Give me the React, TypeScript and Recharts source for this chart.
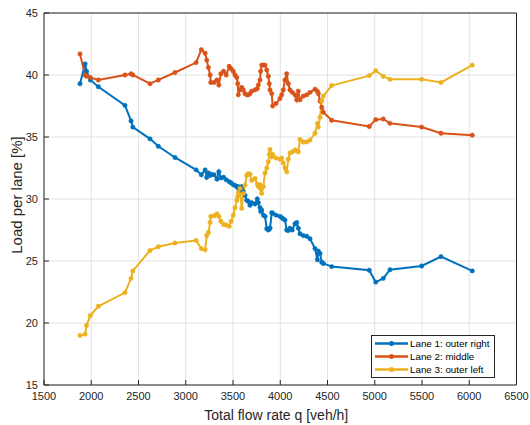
import { CartesianGrid, Legend, Line, LineChart, XAxis, YAxis } from "recharts";

// total flow rate q [veh/h], shared by the three lanes
const flowRate = [
  1881, 1935, 1950, 1990, 2075, 2357, 2421, 2440, 2622, 2710, 2886, 3110, 3165,
  3205, 3222, 3240, 3258, 3265, 3300, 3330, 3350, 3372, 3400, 3428, 3460, 3480,
  3503, 3521, 3540, 3550, 3556, 3574, 3592, 3609, 3627, 3645, 3662, 3680, 3698,
  3733, 3757, 3768, 3786, 3793, 3804, 3821, 3839, 3857, 3874, 3884, 3892, 3910,
  3920, 3955, 3997, 4015, 4032, 4050, 4068, 4085, 4103, 4127, 4156, 4174, 4191,
  4209, 4244, 4280, 4315, 4368, 4393, 4403, 4421, 4439, 4456, 4544, 4942, 5010,
  5090, 5161, 5496, 5701, 6032,
];

// lane 1: outer right [%]
const lane1 = [
  39.3, 40.9, 40.3, 39.6, 39.05, 37.55, 36.3, 35.8, 34.85, 34.25, 33.35, 32.35,
  31.95, 32.35, 31.75, 32.1, 31.9, 32.0, 31.95, 31.6, 32.2, 31.7, 31.75, 31.55,
  31.4, 31.3, 31.15, 31.1, 31.0, 30.9, 31.0, 30.7, 31.0, 30.6, 30.3, 29.9, 29.8,
  29.5, 29.7, 29.6, 30.0, 29.7, 29.3, 29.0, 29.1, 28.7, 28.6, 27.6, 27.5, 27.6,
  27.65, 28.9, 28.85, 28.7, 28.6, 28.5, 28.4, 28.3, 27.5, 27.45, 27.65, 27.5,
  28.0, 28.1, 27.65, 27.2, 27.05, 27.0, 26.8, 26.0, 25.1, 25.8, 25.6, 24.9, 24.8,
  24.55, 24.25, 23.3, 23.6, 24.3, 24.6, 25.35, 24.2,
];

// lane 2: middle [%]
const lane2 = [
  41.7, 40.0, 39.9, 39.8, 39.6, 40.0, 40.1, 40.0, 39.3, 39.6, 40.2, 41.0, 42.05,
  41.75, 41.2, 40.6, 40.0, 39.4, 39.4, 39.6, 39.2, 40.1, 40.3, 40.0, 40.7, 40.5,
  40.3, 40.0, 39.8, 39.3, 38.4, 38.8, 39.0, 38.8, 38.5, 38.4, 38.4, 38.5, 38.7,
  38.8, 38.9, 39.2, 39.6, 40.3, 40.8, 40.8, 40.8, 40.4, 39.9, 39.3, 38.8, 38.5,
  37.5, 37.7, 38.1, 38.4, 38.8, 39.6, 40.1, 39.3, 38.8, 38.6, 38.4, 38.0, 38.7,
  38.0, 38.3, 38.4, 38.6, 38.85, 38.7, 38.5, 37.9, 37.4, 37.0, 36.35, 35.85,
  36.4, 36.45, 36.1, 35.8, 35.3, 35.15,
];

// lane 3: outer left [%]
const lane3 = [
  19.0, 19.1, 19.8, 20.6, 21.35, 22.45, 23.6, 24.2, 25.85, 26.15, 26.45, 26.65,
  26.0, 25.9, 27.05, 27.3, 28.1, 28.6, 28.65, 28.8, 28.6, 28.2, 27.95, 27.9, 27.8,
  28.2, 28.7, 29.3, 29.9, 30.2, 30.5, 30.85, 29.25, 30.45, 31.1, 31.9, 32.05,
  32.0, 31.5, 31.65, 31.2, 31.0, 31.15, 30.8, 30.45, 31.0, 32.1, 32.5, 33.0, 33.6,
  34.0, 33.4, 33.6, 33.3, 33.2, 33.3, 32.9, 32.5, 32.2, 33.2, 33.7, 33.8, 33.95,
  33.9, 33.8, 34.8, 34.6, 34.6, 34.75, 35.3, 36.1, 35.8, 36.6, 37.9, 38.3, 39.15,
  39.95, 40.35, 39.9, 39.65, 39.65, 39.4, 40.8,
];

const xTicks = [1500, 2000, 2500, 3000, 3500, 4000, 4500, 5000, 5500, 6000, 6500];
const yTicks = [15, 20, 25, 30, 35, 40, 45];

const series = [
  { key: "lane1", name: "Lane 1: outer right", color: "#0072BD" },
  { key: "lane2", name: "Lane 2: middle", color: "#D95319" },
  { key: "lane3", name: "Lane 3: outer left", color: "#EDB120" },
];

const rows = flowRate.map((q, i) => ({
  q,
  lane1: lane1[i],
  lane2: lane2[i],
  lane3: lane3[i],
}));

const ink = "#262626";
const font = '"Liberation Sans", Arial, sans-serif';
const tickStyle = { fontSize: 11, fill: ink, fontFamily: font };

function LegendBox() {
  return (
    <div
      style={{
        background: "#fff",
        border: `1px solid ${ink}`,
        width: 120,
        padding: "0.5px 0 0.5px 2px",
        fontFamily: font,
        fontSize: 9.8,
        color: "#000",
        lineHeight: "13.3px",
      }}
    >
      {series.map((s) => (
        <div key={s.key} style={{ display: "flex", alignItems: "center", height: 13.3 }}>
          <svg width={34} height={13} style={{ marginRight: 2, flex: "none" }}>
            <line x1={1} x2={34} y1={6.5} y2={6.5} stroke={s.color} strokeWidth={2.4} />
            <circle cx={17.5} cy={6.5} r={2.5} fill={s.color} />
          </svg>
          <span style={{ whiteSpace: "nowrap" }}>{s.name}</span>
        </div>
      ))}
    </div>
  );
}

export default function App() {
  return (
    <div style={{ position: "absolute", left: 0, top: 0, background: "#fff" }}>
      <LineChart
        width={530}
        height={425}
        data={rows}
        margin={{ top: 12, right: 0, left: 0, bottom: 0 }}
      >
        <CartesianGrid stroke="#e2e2e2" strokeWidth={1} />
        <XAxis
          dataKey="q"
          type="number"
          domain={[1500, 6500]}
          ticks={xTicks}
          height={40}
          tick={tickStyle}
          tickSize={-5}
          tickMargin={12}
          axisLine={{ stroke: ink }}
          tickLine={{ stroke: ink }}
          interval={0}
          label={{
            value: "Total flow rate q [veh/h]",
            position: "insideBottom",
            content: ({ viewBox }: any) => (
              <text
                x={viewBox.x + viewBox.width / 2 - 4}
                y={viewBox.y + viewBox.height - 5}
                textAnchor="middle"
                style={{ fontSize: 14, fill: ink, fontFamily: font }}
              >
                Total flow rate q [veh/h]
              </text>
            ),
          }}
        />
        <XAxis
          xAxisId="top"
          orientation="top"
          type="number"
          domain={[1500, 6500]}
          ticks={xTicks}
          height={1}
          tickFormatter={() => ""}
          tickSize={-5}
          axisLine={{ stroke: ink }}
          tickLine={{ stroke: ink }}
          interval={0}
        />
        <YAxis
          type="number"
          domain={[15, 45]}
          ticks={yTicks}
          width={44}
          tick={tickStyle}
          tickSize={-5}
          tickMargin={11}
          axisLine={{ stroke: ink }}
          tickLine={{ stroke: ink }}
          interval={0}
          label={{
            value: "Load per lane [%]",
            position: "insideLeft",
            content: ({ viewBox }: any) => {
              const cx = viewBox.x + 16;
              const cy = viewBox.y + viewBox.height / 2 - 4;
              return (
                <text
                  x={cx}
                  y={cy}
                  transform={`rotate(-90 ${cx} ${cy})`}
                  textAnchor="middle"
                  dominantBaseline="central"
                  style={{ fontSize: 15, fill: ink, fontFamily: font }}
                >
                  Load per lane [%]
                </text>
              );
            },
          }}
        />
        <YAxis
          yAxisId="right"
          orientation="right"
          type="number"
          domain={[15, 45]}
          ticks={yTicks}
          width={13.5}
          tickFormatter={() => ""}
          tickSize={-5}
          axisLine={{ stroke: ink }}
          tickLine={{ stroke: ink }}
          interval={0}
        />
        <Legend
          layout="vertical"
          align="center"
          verticalAlign="middle"
          wrapperStyle={{ left: 371, top: 335, width: "auto" }}
          content={() => <LegendBox />}
        />
        {series.map((s) => (
          <Line
            key={s.key}
            dataKey={s.key}
            name={s.name}
            type="linear"
            stroke={s.color}
            strokeWidth={2}
            dot={{ r: 2.2, fill: s.color, stroke: s.color, strokeWidth: 0.5 }}
            activeDot={false}
            isAnimationActive={false}
          />
        ))}
      </LineChart>
    </div>
  );
}
